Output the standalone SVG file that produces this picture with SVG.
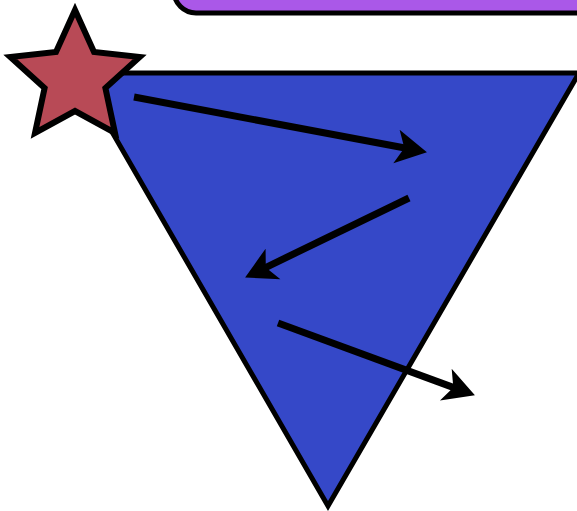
<svg xmlns="http://www.w3.org/2000/svg" width="577" height="511" viewBox="0 0 577 511">
<style>
.shape{stroke:#000;stroke-width:5;stroke-linejoin:miter}
.conn{stroke:#000;stroke-width:7;fill:none}
</style>
<defs>
<marker id="ah" markerUnits="userSpaceOnUse" viewBox="-12 -20 34 40" markerWidth="34" markerHeight="40" refX="0" refY="0" orient="auto" overflow="visible">
<path d="M21,0 L-10,-17 L-2,0 L-10,17 Z" fill="#000"/>
</marker>
</defs>
<rect width="577" height="511" fill="#fff"/>
<g id="box"><rect class="shape" x="174" y="-60" width="460" height="73" rx="22" fill="#aa58e8"/></g>
<g id="triangle"><polygon class="shape" points="78,73 579,73 328,506" fill="#3548c8"/></g>
<g id="star"><polygon class="shape" style="stroke-width:6" fill="#b84a56" points="75,10 94,52 139.7,57 105.4,88 115,133 75,111 35,133 44.6,88 10.3,57 56,52"/></g>
<g id="connectors">
<line class="conn" x1="134" y1="97" x2="406.3" y2="148.3" marker-end="url(#ah)"/>
<line class="conn" x1="409" y1="198" x2="264" y2="268.3" marker-end="url(#ah)"/>
<line class="conn" x1="278" y1="323" x2="455.2" y2="388.1" marker-end="url(#ah)"/>
</g>
</svg>
